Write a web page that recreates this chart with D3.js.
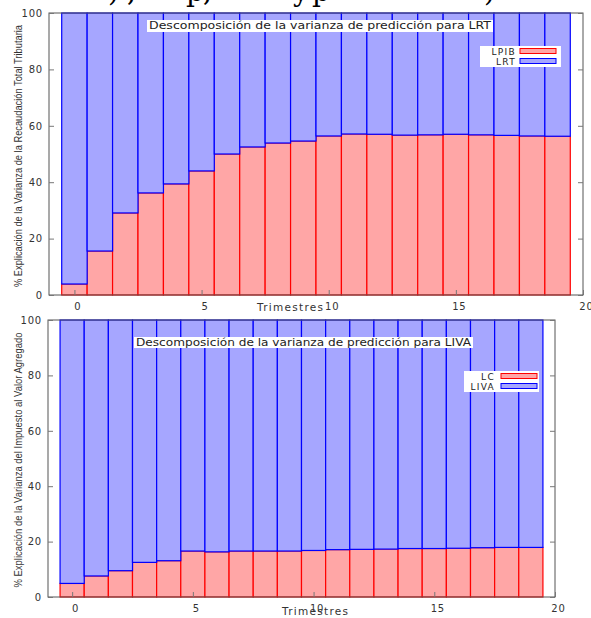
<!DOCTYPE html>
<html>
<head>
<meta charset="utf-8">
<script src="https://cdn.jsdelivr.net/npm/d3@7/dist/d3.min.js"></script>
<style>
body { margin: 0; background: #fff; }
text { font-family: "DejaVu Sans", Verdana, sans-serif; }
</style>
</head>
<body>
<div id="chart"></div>
<script>
// trimestres 0..19
const trimestres = [0, 1, 2, 3, 4, 5, 6, 7, 8, 9, 10, 11, 12, 13, 14, 15, 16, 17, 18, 19];

// LRT chart
const lpib = [3.9, 15.6, 29.1, 36.2, 39.4, 44.0, 50.0, 52.5, 53.9, 54.6, 56.4, 57.1, 57.0, 56.7, 56.8, 57.0, 56.8, 56.6, 56.4, 56.3];
const lrt  = [96.1, 84.4, 70.9, 63.8, 60.6, 56.0, 50.0, 47.5, 46.1, 45.4, 43.6, 42.9, 43.0, 43.3, 43.2, 43.0, 43.2, 43.4, 43.6, 43.7];

// LIVA chart
const lc   = [4.9, 7.6, 9.5, 12.5, 13.1, 16.6, 16.3, 16.6, 16.6, 16.6, 16.8, 17.1, 17.2, 17.3, 17.5, 17.5, 17.6, 17.8, 17.9, 17.9];
const liva = [95.1, 92.4, 90.5, 87.5, 86.9, 83.4, 83.7, 83.4, 83.4, 83.4, 83.2, 82.9, 82.8, 82.7, 82.5, 82.5, 82.4, 82.2, 82.1, 82.1];

const yTicks = [0, 20, 40, 60, 80, 100];
const xTicks = [0, 5, 10, 15, 20];

const redFill = "#ffa6a6", redLine = "#ff0000";
const blueFill = "#a6a6ff", blueLine = "#0000ff";

const svg = d3.select("#chart")
    .append("svg")
        .attr("width", 591)
        .attr("height", 618);

// cut-off text of the page above the figure
svg.append("text")
    .attr("y", 1)
    .style("font-family", "'DejaVu Serif', 'Liberation Serif', serif")
    .style("font-size", "28px")
    .attr("fill", "#000")
    .selectAll("tspan")
    .data([[108, ")"], [127, ","], [186, "p"], [203, ","], [293, "y"], [312, "p"], [484, ")"]])
    .enter()
        .append("tspan")
            .attr("x", d => d[0])
            .text(d => d[1]);

function drawChart(cfg) {
    const xScale = d3.scaleLinear()
                        .domain([-1, 20])
                        .range([cfg.left, cfg.right]);
    const yScale = d3.scaleLinear()
                        .domain([0, 100])
                        .range([cfg.bottom, cfg.top]);

    const rows = trimestres.map((t, i) => ({t: t, a: cfg.a[i], b: cfg.b[i]}));
    const stacked = d3.stack().keys(["a", "b"])(rows);
    const fills = [redFill, blueFill];
    const lines = [redLine, blueLine];

    const g = svg.append("g");

    g.selectAll("g.serie")
        .data(stacked)
        .enter()
            .append("g")
                .attr("class", "serie")
                .attr("fill", (d, i) => fills[i])
                .attr("stroke", (d, i) => lines[i])
                .attr("stroke-width", 1.2)
            .selectAll("rect")
            .data(d => d)
            .enter()
                .append("rect")
                    .attr("x", d => xScale(d.data.t - 0.5))
                    .attr("width", d => xScale(d.data.t + 0.5) - xScale(d.data.t - 0.5))
                    .attr("y", d => yScale(d[1]))
                    .attr("height", d => yScale(d[0]) - yScale(d[1]));

    // border
    g.append("rect")
        .attr("x", cfg.left)
        .attr("y", cfg.top)
        .attr("width", cfg.right - cfg.left)
        .attr("height", cfg.bottom - cfg.top)
        .attr("fill", "none")
        .attr("stroke", "#555")
        .attr("stroke-width", 1);

    const yAxis = g.append("g")
                    .attr("transform", `translate(${cfg.left}, 0)`)
                    .call(d3.axisLeft(yScale).tickValues(yTicks).tickSize(-5).tickPadding(6));
    const yAxisR = g.append("g")
                    .attr("transform", `translate(${cfg.right}, 0)`)
                    .call(d3.axisRight(yScale).tickValues(yTicks).tickSize(-5).tickFormat(""));
    const xAxis = g.append("g")
                    .attr("transform", `translate(0, ${cfg.bottom})`)
                    .call(d3.axisBottom(xScale).tickValues(xTicks).tickSize(-5).tickPadding(8));

    [yAxis, yAxisR, xAxis].forEach(a => {
        a.select(".domain").remove();
        a.selectAll(".tick line").attr("stroke", "#777");
        a.selectAll(".tick text")
            .attr("fill", "#333")
            .style("font-family", "'DejaVu Sans', Verdana, sans-serif")
            .style("font-size", "10px")
            .style("letter-spacing", "0.8px");
    });
    xAxis.selectAll(".tick text").attr("dx", 3);

    // axis titles
    g.append("text")
        .text("Trimestres")
        .attr("x", cfg.xLabelX)
        .attr("y", cfg.xLabelY)
        .attr("text-anchor", "middle")
        .attr("fill", "#333")
        .attr("textLength", 66)
        .attr("lengthAdjust", "spacing")
        .style("font-size", "10.5px");

    g.append("text")
        .text(cfg.yLabel)
        .attr("transform", "rotate(-90)")
        .attr("x", -cfg.yLabelY)
        .attr("y", 22)
        .attr("text-anchor", "middle")
        .attr("fill", "#333")
        .attr("textLength", cfg.yLabelLen)
        .attr("lengthAdjust", "spacingAndGlyphs")
        .style("font-family", "'Liberation Sans', Arial, sans-serif")
        .style("font-size", "10px");

    // title box
    g.append("rect")
        .attr("x", cfg.titleBox[0])
        .attr("y", cfg.titleBox[1])
        .attr("width", cfg.titleBox[2])
        .attr("height", cfg.titleBox[3])
        .attr("fill", "#fff");
    g.append("text")
        .text(cfg.title)
        .attr("x", cfg.titleBox[0] + cfg.titleBox[2] / 2)
        .attr("y", cfg.titleBox[1] + 8.5)
        .attr("text-anchor", "middle")
        .attr("fill", "#222")
        .attr("textLength", cfg.titleBox[2] - 4)
        .attr("lengthAdjust", "spacingAndGlyphs")
        .style("font-size", "10px");

    // legend
    const lg = cfg.legend;
    g.append("rect")
        .attr("x", lg.x)
        .attr("y", lg.y)
        .attr("width", lg.w)
        .attr("height", 21)
        .attr("fill", "#fff");
    const items = g.selectAll("g.key")
                    .data(cfg.keys)
                    .enter()
                        .append("g")
                            .attr("class", "key")
                            .attr("transform", (d, i) => `translate(0, ${lg.y + 2.5 + i * 10})`);
    items.append("text")
        .text(d => d)
        .attr("x", lg.textX)
        .attr("y", 6)
        .attr("text-anchor", "end")
        .attr("fill", "#222")
        .style("font-size", "9px")
        .style("letter-spacing", "1.3px");
    items.append("rect")
        .attr("x", lg.swX)
        .attr("y", 0)
        .attr("width", 36)
        .attr("height", 5)
        .attr("fill", (d, i) => fills[i])
        .attr("stroke", (d, i) => lines[i])
        .attr("stroke-width", 1);
}

drawChart({
    left: 49, right: 583, top: 13, bottom: 295,
    a: lpib, b: lrt, keys: ["LPIB", "LRT"],
    title: "Descomposición de la varianza de predicción para LRT",
    titleBox: [147, 20, 346, 12],
    yLabel: "% Explicación de la Varianza de la Recaudación Total Tributaria",
    yLabelY: 156, yLabelLen: 262,
    xLabelX: 290, xLabelY: 311,
    legend: {x: 480, y: 46, w: 81, textX: 516, swX: 520}
});

drawChart({
    left: 48, right: 555, top: 320, bottom: 597,
    a: lc, b: liva, keys: ["LC", "LIVA"],
    title: "Descomposición de la varianza de predicción para LIVA",
    titleBox: [134, 337, 339, 11],
    yLabel: "% Explicación de la Varianza del Impuesto al Valor Agregado",
    yLabelY: 460, yLabelLen: 255,
    xLabelX: 315, xLabelY: 615,
    legend: {x: 464, y: 371, w: 75, textX: 495, swX: 501}
});
</script>
</body>
</html>
